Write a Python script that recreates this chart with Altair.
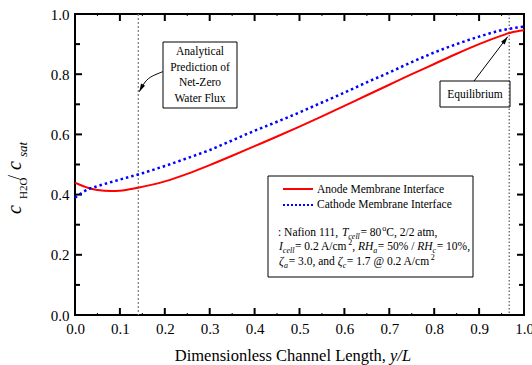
import altair as alt
import pandas as pd

# ---------------- data ----------------
x_anode = [0.00, 0.03, 0.05, 0.08, 0.10, 0.14, 0.20, 0.25, 0.30, 0.35, 0.40, 0.45,
           0.50, 0.55, 0.60, 0.65, 0.70, 0.75, 0.80, 0.85, 0.90, 0.95, 0.97, 1.00]
c_anode = [0.440, 0.422, 0.415, 0.412, 0.413, 0.423, 0.444, 0.469, 0.498, 0.529, 0.561, 0.593,
           0.626, 0.660, 0.695, 0.730, 0.765, 0.800, 0.834, 0.868, 0.900, 0.928, 0.938, 0.946]

x_cathode = [0.00, 0.03, 0.05, 0.10, 0.15, 0.20, 0.25, 0.30, 0.35, 0.40, 0.45, 0.50,
             0.55, 0.60, 0.65, 0.70, 0.75, 0.80, 0.85, 0.90, 0.95, 1.00]
c_cathode = [0.390, 0.418, 0.428, 0.450, 0.471, 0.495, 0.521, 0.548, 0.580, 0.612, 0.642, 0.673,
             0.706, 0.739, 0.773, 0.806, 0.840, 0.872, 0.900, 0.925, 0.946, 0.958]

x_major = [0.0, 0.1, 0.2, 0.3, 0.4, 0.5, 0.6, 0.7, 0.8, 0.9, 1.0]
x_minor = [0.05, 0.15, 0.25, 0.35, 0.45, 0.55, 0.65, 0.75, 0.85, 0.95]
y_major = [0.0, 0.2, 0.4, 0.6, 0.8, 1.0]
y_minor = [0.1, 0.3, 0.5, 0.7, 0.9]

net_zero_x = 0.141
equilibrium_x = 0.967

# arrow paths (data units)
arrow1_x = [0.1953, 0.1708, 0.1559, 0.1432]
arrow1_y = [0.8083, 0.7940, 0.7774, 0.7418]
arrow2_x = [0.8888, 0.9637]
arrow2_y = [0.7774, 0.9246]

# annotation text lines (text, style) pieces
line3 = [(": Nafion 111, ", "n"), ("T", "i"), ("cell", "isub"), ("= 80", "n"), ("o", "sup"), ("C, 2/2 atm,", "n")]
line4 = [("I", "i"), ("cell", "isub"), ("= 0.2 A/cm", "n"), ("2", "sup"), (", ", "n"), ("RH", "i"), ("a", "isub"),
         ("= 50% / ", "n"), ("RH", "i"), ("c", "isub"), ("= 10%,", "n")]
line5 = [("\u03b6", "i"), ("a", "isub"), ("= 3.0, and ", "n"), ("\u03b6", "i"), ("c", "isub"),
         ("= 1.7 @ 0.2 A/cm", "n"), ("2", "sup")]

FONT = "'Liberation Serif', 'Times New Roman', Times, serif"
W, H = 449, 301
L, T = 75, 14

# Times (Liberation Serif) advance widths, per 1000 em
WN = {' ': 250, '%': 833, ',': 250, '-': 333, '.': 250, '/': 278, ':': 278, '=': 564, '@': 921,
      'A': 722, 'C': 667, 'N': 722, 'a': 444, 'c': 444, 'e': 444, 'f': 333, 'i': 278, 'l': 278,
      'm': 778, 'n': 500, 'o': 500, 'r': 333, 't': 278, 'd': 500}
WI = {' ': 250, 'a': 500, 'c': 444, 'e': 444, 'l': 278, 'T': 556, 'I': 333, 'R': 611, 'H': 722, '\u03b6': 440}


def tw(s, italic, size):
    tab = WI if italic else WN
    return sum(tab.get(ch, 500) for ch in s) * size / 1000.0


XS = alt.Scale(domain=[0, 1], nice=False, zero=False)
YS = alt.Scale(domain=[0, 1], nice=False, zero=False)
XAX = alt.Axis(values=x_major, format=".1f", labelFont=FONT, labelFontSize=15, labelColor="black",
               ticks=False, domain=False, grid=False, title=None, labelPadding=6,
               labelFlush=False, labelOverlap=False)
YAX = alt.Axis(values=y_major, format=".1f", labelFont=FONT, labelFontSize=15, labelColor="black",
               ticks=False, domain=False, grid=False, title=None, labelPadding=6,
               labelFlush=False, labelOverlap=False)


def xf(field):
    return alt.X(field, type="quantitative", scale=XS, axis=XAX)


def yf(field):
    return alt.Y(field, type="quantitative", scale=YS, axis=YAX)


def xd(v):
    return alt.X(datum=v, type="quantitative", scale=XS, axis=XAX)


def yd(v):
    return alt.Y(datum=v, type="quantitative", scale=YS, axis=YAX)


one = pd.DataFrame({"k": [0]})


def txt(s, px, py, size=11.5, style="normal", align="left", angle=0):
    return alt.Chart(one).mark_text(
        text=s, align=align, baseline="alphabetic", font=FONT, fontSize=size,
        fontStyle=style, angle=angle, color="black"
    ).encode(x=alt.value(px - L), y=alt.value(py - T))


def flow(pieces, x0, base, size=11.5, small=8):
    out = []
    cur = x0
    for s, kind in pieces:
        italic = kind in ("i", "isub")
        sz = small if kind in ("isub", "sub", "sup") else size
        dy = 3 if kind in ("isub", "sub") else (-5 if kind == "sup" else 0)
        if kind == "sup":
            cur += 1.0
        lead = len(s) - len(s.lstrip(" "))
        body = s.strip(" ")
        px = cur + tw(" " * lead, italic, sz)
        out.append(txt(body, px, base + dy, size=sz, style="italic" if italic else "normal"))
        cur += tw(s, italic, sz)
        if kind in ("isub", "sub"):
            cur += 0.6
    return out


def box(x1, x2, y1, y2):
    return alt.Chart(one).mark_rect(fill="white", stroke="black", strokeWidth=1).encode(
        x=alt.value(x1 - L), x2=alt.value(x2 - L), y=alt.value(y1 - T), y2=alt.value(y2 - T))


layers = []

# ticks (inward)
df_xM = pd.DataFrame({"t": x_major})
df_xm = pd.DataFrame({"t": x_minor})
df_yM = pd.DataFrame({"t": y_major})
df_ym = pd.DataFrame({"t": y_minor})
rule = dict(color="black", strokeWidth=2)
layers += [
    alt.Chart(df_xM).mark_rule(**rule).encode(x=xf("t"), y=alt.value(H), y2=alt.value(H - 7)),
    alt.Chart(df_xM).mark_rule(**rule).encode(x=xf("t"), y=alt.value(0), y2=alt.value(7)),
    alt.Chart(df_xm).mark_rule(color="black", strokeWidth=1).encode(x=xf("t"), y=alt.value(H), y2=alt.value(H - 2)),
    alt.Chart(df_xm).mark_rule(color="black", strokeWidth=1).encode(x=xf("t"), y=alt.value(0), y2=alt.value(2)),
    alt.Chart(df_yM).mark_rule(**rule).encode(y=yf("t"), x=alt.value(0), x2=alt.value(7)),
    alt.Chart(df_yM).mark_rule(**rule).encode(y=yf("t"), x=alt.value(W), x2=alt.value(W - 7)),
    alt.Chart(df_ym).mark_rule(**rule).encode(y=yf("t"), x=alt.value(0), x2=alt.value(5)),
    alt.Chart(df_ym).mark_rule(**rule).encode(y=yf("t"), x=alt.value(W), x2=alt.value(W - 5)),
]

# annotation boxes
layers += [box(163, 237, 42, 108), box(440, 510, 81, 107), box(268, 473, 176, 277)]

# vertical dotted lines
layers += [
    alt.Chart(one).mark_rule(color="#808080", strokeWidth=1.3, strokeDash=[2, 2]).encode(x=xd(net_zero_x)),
    alt.Chart(one).mark_rule(color="#333333", strokeWidth=1, strokeDash=[1.5, 2]).encode(x=xd(equilibrium_x)),
]

# curves
df_a = pd.DataFrame({"x": x_anode, "c": c_anode})
df_c = pd.DataFrame({"x": x_cathode, "c": c_cathode})
layers += [
    alt.Chart(df_a).mark_line(color="#ff0000", strokeWidth=2, interpolate="monotone").encode(x=xf("x"), y=yf("c")),
    alt.Chart(df_c).mark_line(color="#0000ff", strokeWidth=2.5, strokeDash=[2.5, 3], interpolate="monotone").encode(x=xf("x"), y=yf("c")),
]

# arrows
df_ar1 = pd.DataFrame({"x": arrow1_x, "y": arrow1_y, "o": list(range(len(arrow1_x)))})
df_ar2 = pd.DataFrame({"x": arrow2_x, "y": arrow2_y, "o": list(range(len(arrow2_x)))})
HEAD = "M0,0L0.42,1.5L-0.42,1.5Z"
layers += [
    alt.Chart(df_ar1).mark_line(color="black", strokeWidth=1, interpolate="basis").encode(
        x=xf("x"), y=yf("y"), order="o:Q"),
    alt.Chart(df_ar2).mark_line(color="black", strokeWidth=1).encode(x=xf("x"), y=yf("y"), order="o:Q"),
    alt.Chart(one).mark_point(shape=HEAD, size=114, filled=True, color="black", opacity=1, angle=208).encode(
        x=xd(arrow1_x[-1]), y=yd(arrow1_y[-1])),
    alt.Chart(one).mark_point(shape=HEAD, size=114, filled=True, color="black", opacity=1, angle=37).encode(
        x=xd(arrow2_x[-1]), y=yd(arrow2_y[-1])),
]

# annotation texts
for s, py in [("Analytical", 55), ("Prediction of", 70.5), ("Net-Zero", 86), ("Water Flux", 101.5)]:
    layers.append(txt(s, 200, py, align="center"))
layers.append(txt("Equilibrium", 475, 97.5, align="center"))

# legend samples
layers += [
    alt.Chart(one).mark_rule(color="#ff0000", strokeWidth=2).encode(
        x=alt.value(283 - L), x2=alt.value(313 - L), y=alt.value(189 - T)),
    alt.Chart(one).mark_rule(color="#0000ff", strokeWidth=2, strokeDash=[2, 2]).encode(
        x=alt.value(283 - L), x2=alt.value(313 - L), y=alt.value(205 - T)),
]
layers += [txt("Anode Membrane Interface", 317, 192.7), txt("Cathode Membrane Interface", 317, 207.7)]

# parameter lines
layers += flow(line3, 278, 235.5)
layers += flow(line4, 279, 250)
layers += flow(line5, 279, 264.5)

# axis titles
layers += [
    txt("Dimensionless Channel Length,", 386, 361, size=16.5, align="right"),
    txt("y/L", 390, 361, size=16.5, style="italic"),
    txt("c", 21, 214, size=20, style="italic", angle=270),
    txt("H2O", 27, 199, size=11, angle=270),
    txt("/", 21, 180, size=18, angle=270),
    txt("c", 21, 170, size=20, style="italic", angle=270),
    txt("sat", 27, 157, size=13, style="italic", angle=270),
]

chart = alt.layer(*layers).properties(
    width=W, height=H,
    autosize=alt.AutoSizeParams(type="none"),
    padding={"left": L, "top": T, "right": 532 - L - W, "bottom": 365 - T - H},
    background="white",
).configure_view(stroke="black", strokeWidth=2)

chart.save("out.html", embed_options={"renderer": "svg", "actions": False})
